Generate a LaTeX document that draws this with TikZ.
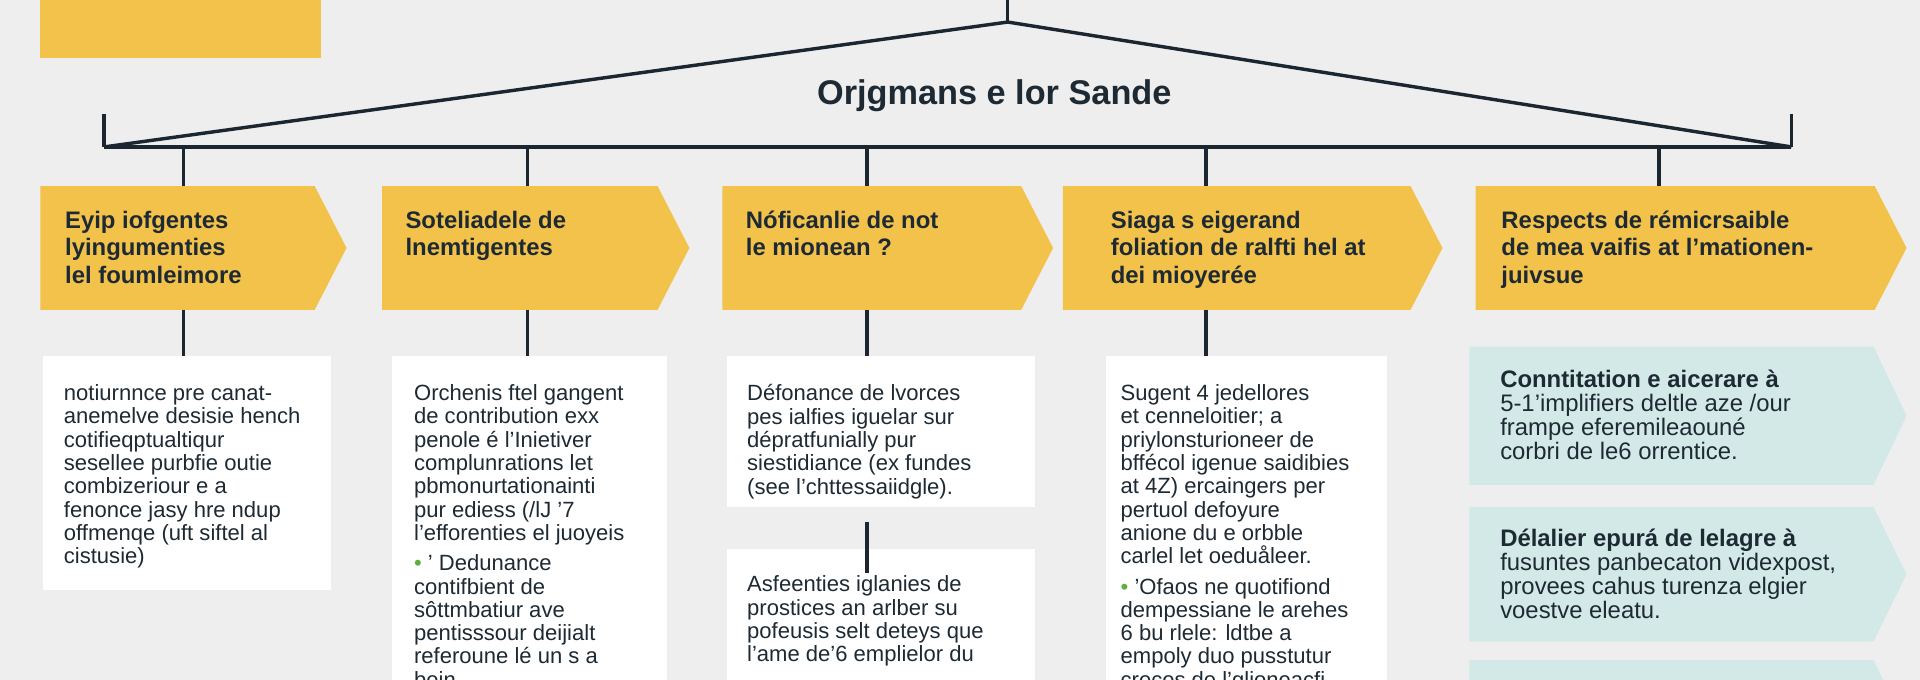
\documentclass[tikz,border=0pt]{standalone}
\usepackage{fontspec}
\setmainfont{Liberation Sans}
\begin{document}
\begin{tikzpicture}[x=1pt,y=-1pt,
  ln/.style={draw=lineC,line width=2.8pt},
  hdrtxt/.style={anchor=north west,align=left,font=\fontsize{19.5}{22.5}\selectfont\bfseries,text=textC,inner sep=0pt},
  card/.style={fill=white,draw=none},
  body/.style={anchor=north west,align=left,font=\fontsize{18}{19}\selectfont,text=textC,inner sep=0pt},
  tbody/.style={anchor=north west,align=left,font=\fontsize{19.5}{19.5}\selectfont,text=textC,inner sep=0pt}]
\definecolor{bgC}{HTML}{EEEEEE}
\definecolor{yellowC}{HTML}{F2C24B}
\definecolor{tealC}{HTML}{D3E9E7}
\definecolor{lineC}{HTML}{1C2630}
\definecolor{textC}{HTML}{1E2A33}
\definecolor{greenC}{HTML}{5DB040}
\fill[bgC] (0,0) rectangle (1568,555);
\useasboundingbox (0,0) rectangle (1568,555);
\clip (0,0) rectangle (1568,555);
% banner
\fill[yellowC] (33,0) -- (262,0) -- (262,47) -- (33,47) -- cycle;
% roof
\coordinate (top) at (823,0);
\coordinate (apex) at (823,18);
\coordinate (L) at (85,120);
\coordinate (R) at (1463,120);
\draw[ln] (top) -- (apex);
\draw[ln] (L) -- (apex) -- (R);
\draw[ln] (L) -- (R);
\draw[ln] (85,93) -- (L);
\draw[ln] (1463,93) -- (R);
\node[font=\fontsize{28}{30}\selectfont\bfseries,text=textC] (title) at (812,78) {Orjgmans e lor Sande};
% headers
\foreach \a/\b in {33/283,312/563,590/860,868/1178,1205/1557}{
  \fill[yellowC] (\a,152) -- (\b-26,152) -- (\b,202.5) -- (\b-26,253) -- (\a,253) -- cycle;
}
\foreach \x in {150,431,708,985,1355}{\draw[ln] (\x,120) -- (\x,152);}
\node[hdrtxt] (h1) at (53,172) {Eyip iofgentes\\lyingumenties\\lel foumleimore};
\node[hdrtxt] (h2) at (331,172) {Soteliadele de\\lnemtigentes};
\node[hdrtxt] (h3) at (609,172) {Nóficanlie de not\\le mionean ?};
\node[hdrtxt] (h4) at (907,172) {Siaga s eigerand\\foliation de ralfti hel at\\dei mioyerée};
\node[hdrtxt] (h5) at (1226,172) {Respects de rémicrsaible\\de mea vaifis at l'mationen-\\juivsue};
% connectors
\foreach \x in {150,431,708,985}{\draw[ln] (\x,253) -- (\x,291);}
% cards
\fill[card] (35,291) rectangle (270,482);
\fill[card] (320,291) rectangle (545,560);
\fill[card] (594,291) rectangle (845,414);
\fill[card] (594,448) rectangle (845,560);
\fill[card] (903,291) rectangle (1133,560);
\draw[ln] (708,426) -- (708,468);
\node[body] (b1) at (52,314) {notiurnnce pre canat-\\anemelve desisie hench\\cotifieqptualtiqur\\sesellee purbfie outie\\combizeriour e a\\fenonce jasy hre ndup\\offmenqe (uft siftel al\\cistusie)};
\node[body] (b2) at (338,314) {Orchenis ftel gangent\\de contribution exx\\penole é l'Inietiver\\complunrations let\\pbmonurtationainti\\pur ediess (/lJ '7\\l'efforenties el juoyeis\\[6pt]{\color{greenC}\textbullet} ' Dedunance\\contifbient de\\sôttmbatiur ave\\pentisssour deijialt\\referoune lé un s a\\bein};
\node[body] (b3) at (610,314) {Défonance de lvorces\\pes ialfies iguelar sur\\dépratfunially pur\\siestidiance (ex fundes\\(see l'chttessaiidgle).};
\node[body] (b3b) at (610,470) {Asfeenties iglanies de\\prostices an arlber su\\pofeusis selt deteys que\\l'ame de'6 emplielor du};
\node[body] (b4) at (915,314) {Sugent 4 jedellores\\et cenneloitier; a\\priylonsturioneer de\\bffécol igenue saidibies\\at 4Z) ercaingers per\\pertuol defoyure\\anione du e orbble\\carlel let oeduåleer.\\[6pt]{\color{greenC}\textbullet} 'Ofaos ne quotifiond\\dempessiane le arehes\\6 bu rlele: ldtbe a\\empoly duo pusstutur\\creces de l'glioneacfi};
% teal boxes
\foreach \a/\b in {283/396,414/524,539/650}{
  \fill[tealC] (1200,\a) -- (1530,\a) -- (1557,{(\a+\b)/2}) -- (1530,\b) -- (1200,\b) -- cycle;
}
\node[tbody] (t1) at (1225,302) {\textbf{Conntitation e aicerare à}\\5-1'implifiers deltle aze /our\\frampe eferemileaouné\\corbri de le6 orrentice.};
\node[tbody] (t2) at (1225,432) {\textbf{Délalier epurá de lelagre à}\\fusuntes panbecaton videxpost,\\provees cahus turenza elgier\\voestve eleatu.};
\end{tikzpicture}
\end{document}
